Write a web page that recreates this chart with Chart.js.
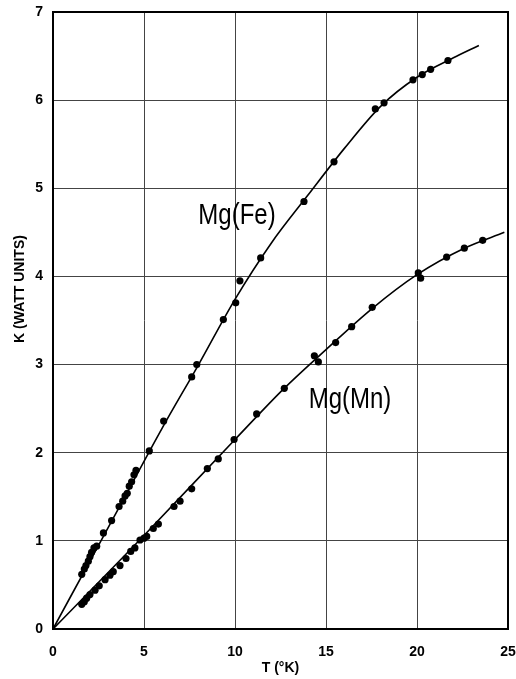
<!DOCTYPE html>
<html>
<head>
<meta charset="utf-8">
<script src="https://cdn.jsdelivr.net/npm/chart.js@4/dist/chart.umd.min.js"></script>
<style>
	body { margin: 0; background: #fff; }
	#wrap { width: 516px; height: 679px; }
</style>
</head>
<body>
<div id="wrap"><canvas id="myChart" width="516" height="679"></canvas></div>
<script>
// 측정점 (picture에서 읽은 값)
const feT = [1.58, 1.72, 1.81, 1.94, 2.03, 2.12, 2.25, 2.40, 2.77, 3.22, 3.63, 3.83, 3.96, 4.08, 4.19, 4.32, 4.45, 4.56,
	5.29, 6.08, 7.62, 7.90, 9.36, 10.04, 10.27, 11.41, 13.79, 15.44, 17.71, 18.19, 19.78, 20.29, 20.75, 21.70];
const feK = [0.62, 0.68, 0.72, 0.77, 0.82, 0.87, 0.92, 0.94, 1.09, 1.23, 1.39, 1.45, 1.51, 1.54, 1.62, 1.67, 1.75, 1.80,
	2.02, 2.36, 2.86, 3.00, 3.51, 3.70, 3.95, 4.21, 4.85, 5.30, 5.90, 5.97, 6.23, 6.29, 6.35, 6.45];

const mnT = [1.58, 1.72, 1.85, 2.03, 2.31, 2.54, 2.86, 3.13, 3.31, 3.68, 4.01, 4.27, 4.50, 4.78, 5.00, 5.15, 5.51, 5.79,
	6.65, 6.98, 7.62, 8.48, 9.08, 9.95, 11.19, 12.71, 14.36, 14.58, 15.53, 16.41, 17.54, 20.07, 20.20, 21.63, 22.60, 23.61];
const mnK = [0.28, 0.31, 0.35, 0.39, 0.44, 0.49, 0.56, 0.61, 0.65, 0.72, 0.80, 0.88, 0.92, 1.01, 1.03, 1.05, 1.14, 1.19,
	1.39, 1.45, 1.59, 1.82, 1.93, 2.15, 2.44, 2.73, 3.10, 3.03, 3.25, 3.43, 3.65, 4.04, 3.98, 4.22, 4.32, 4.41];

// 손으로 그린 곡선
const feCurveT = [0, 2, 4, 6, 8, 10, 12, 14, 16, 18, 20, 22, 23.4];
const feCurveK = [0, 0.76, 1.52, 2.28, 3.00, 3.74, 4.38, 4.92, 5.45, 5.93, 6.26, 6.48, 6.62];
const mnCurveT = [0, 5, 10, 12.7, 15, 17.5, 20, 22.6, 24.8];
const mnCurveK = [0, 1.06, 2.15, 2.73, 3.17, 3.63, 4.02, 4.32, 4.50];

// 곡선 이름표
const curveNames = ["Mg(Fe)", "Mg(Mn)"];
const nameT = [10.11, 16.32];
const nameK = [4.59, 2.51];

const toXY = (xs, ys) => xs.map((x, i) => ({ x: x, y: ys[i] }));

// 테두리, 이름표, y축 제목
const extras = {
	id: "extras",
	beforeDatasetsDraw(chart) {
		const a = chart.chartArea;
		const ctx = chart.ctx;
		ctx.save();
		ctx.strokeStyle = "#000";
		ctx.lineWidth = 2;
		ctx.strokeRect(a.left, a.top, a.right - a.left, a.bottom - a.top);
		ctx.restore();
	},
	afterDatasetsDraw(chart) {
		const ctx = chart.ctx;
		const sx = chart.scales.x, sy = chart.scales.y;
		ctx.save();
		ctx.fillStyle = "#000";
		ctx.textAlign = "center";
		ctx.textBaseline = "alphabetic";
		ctx.font = "30px 'Liberation Sans', sans-serif";
		for (let i = 0; i < curveNames.length; i++) {
			ctx.save();
			ctx.translate(sx.getPixelForValue(nameT[i]), sy.getPixelForValue(nameK[i]));
			ctx.scale(0.8, 1);	// 좁은 글꼴처럼
			ctx.fillText(curveNames[i], 0, 0);
			ctx.restore();
		}
		// y축 제목
		ctx.translate(20, 289);
		ctx.rotate(-Math.PI / 2);
		ctx.textBaseline = "middle";
		ctx.font = "bold 14px 'Liberation Sans', sans-serif";
		ctx.fillText("K (WATT UNITS)", 0, 0);
		ctx.restore();
	}
};

const ctx = document.getElementById("myChart");

new Chart(ctx, {
	type: "scatter",
	data: {
		datasets: [
			{ data: toXY(feCurveT, feCurveK), showLine: true, pointRadius: 0, borderColor: "#000", borderWidth: 1.6, cubicInterpolationMode: "monotone" },
			{ data: toXY(mnCurveT, mnCurveK), showLine: true, pointRadius: 0, borderColor: "#000", borderWidth: 1.6, cubicInterpolationMode: "monotone" },
			{ data: toXY(feT, feK), pointRadius: 3.6, backgroundColor: "#000", borderColor: "#000", borderWidth: 0 },
			{ data: toXY(mnT, mnK), pointRadius: 3.6, backgroundColor: "#000", borderColor: "#000", borderWidth: 0 }
		]
	},
	options: {
		responsive: false,
		animation: false,
		layout: { padding: { top: 12, right: 8, left: 0, bottom: 0 } },
		plugins: { legend: { display: false }, tooltip: { enabled: false } },
		scales: {
			x: {
				type: "linear",
				min: 0, max: 25,
				afterFit: (s) => { s.height = 50; s.paddingLeft = 0; s.paddingRight = 0; },
				grid: { color: "#444", lineWidth: 1, drawTicks: false },
				border: { display: false },
				ticks: { stepSize: 5, padding: 15, color: "#000", font: { family: "'Liberation Sans', sans-serif", size: 14, weight: "bold" } },
				title: { display: true, text: "T (°K)", color: "#000", padding: { top: 0, bottom: 2 }, font: { family: "'Liberation Sans', sans-serif", size: 14, weight: "bold" } }
			},
			y: {
				min: 0, max: 7,
				afterFit: (s) => { s.width = 53; s.paddingTop = 0; s.paddingBottom = 0; },
				grid: { color: "#444", lineWidth: 1, drawTicks: false },
				border: { display: false },
				ticks: { stepSize: 1, padding: 10, color: "#000", font: { family: "'Liberation Sans', sans-serif", size: 14, weight: "bold" } }
			}
		}
	},
	plugins: [extras]
});
</script>
</body>
</html>
